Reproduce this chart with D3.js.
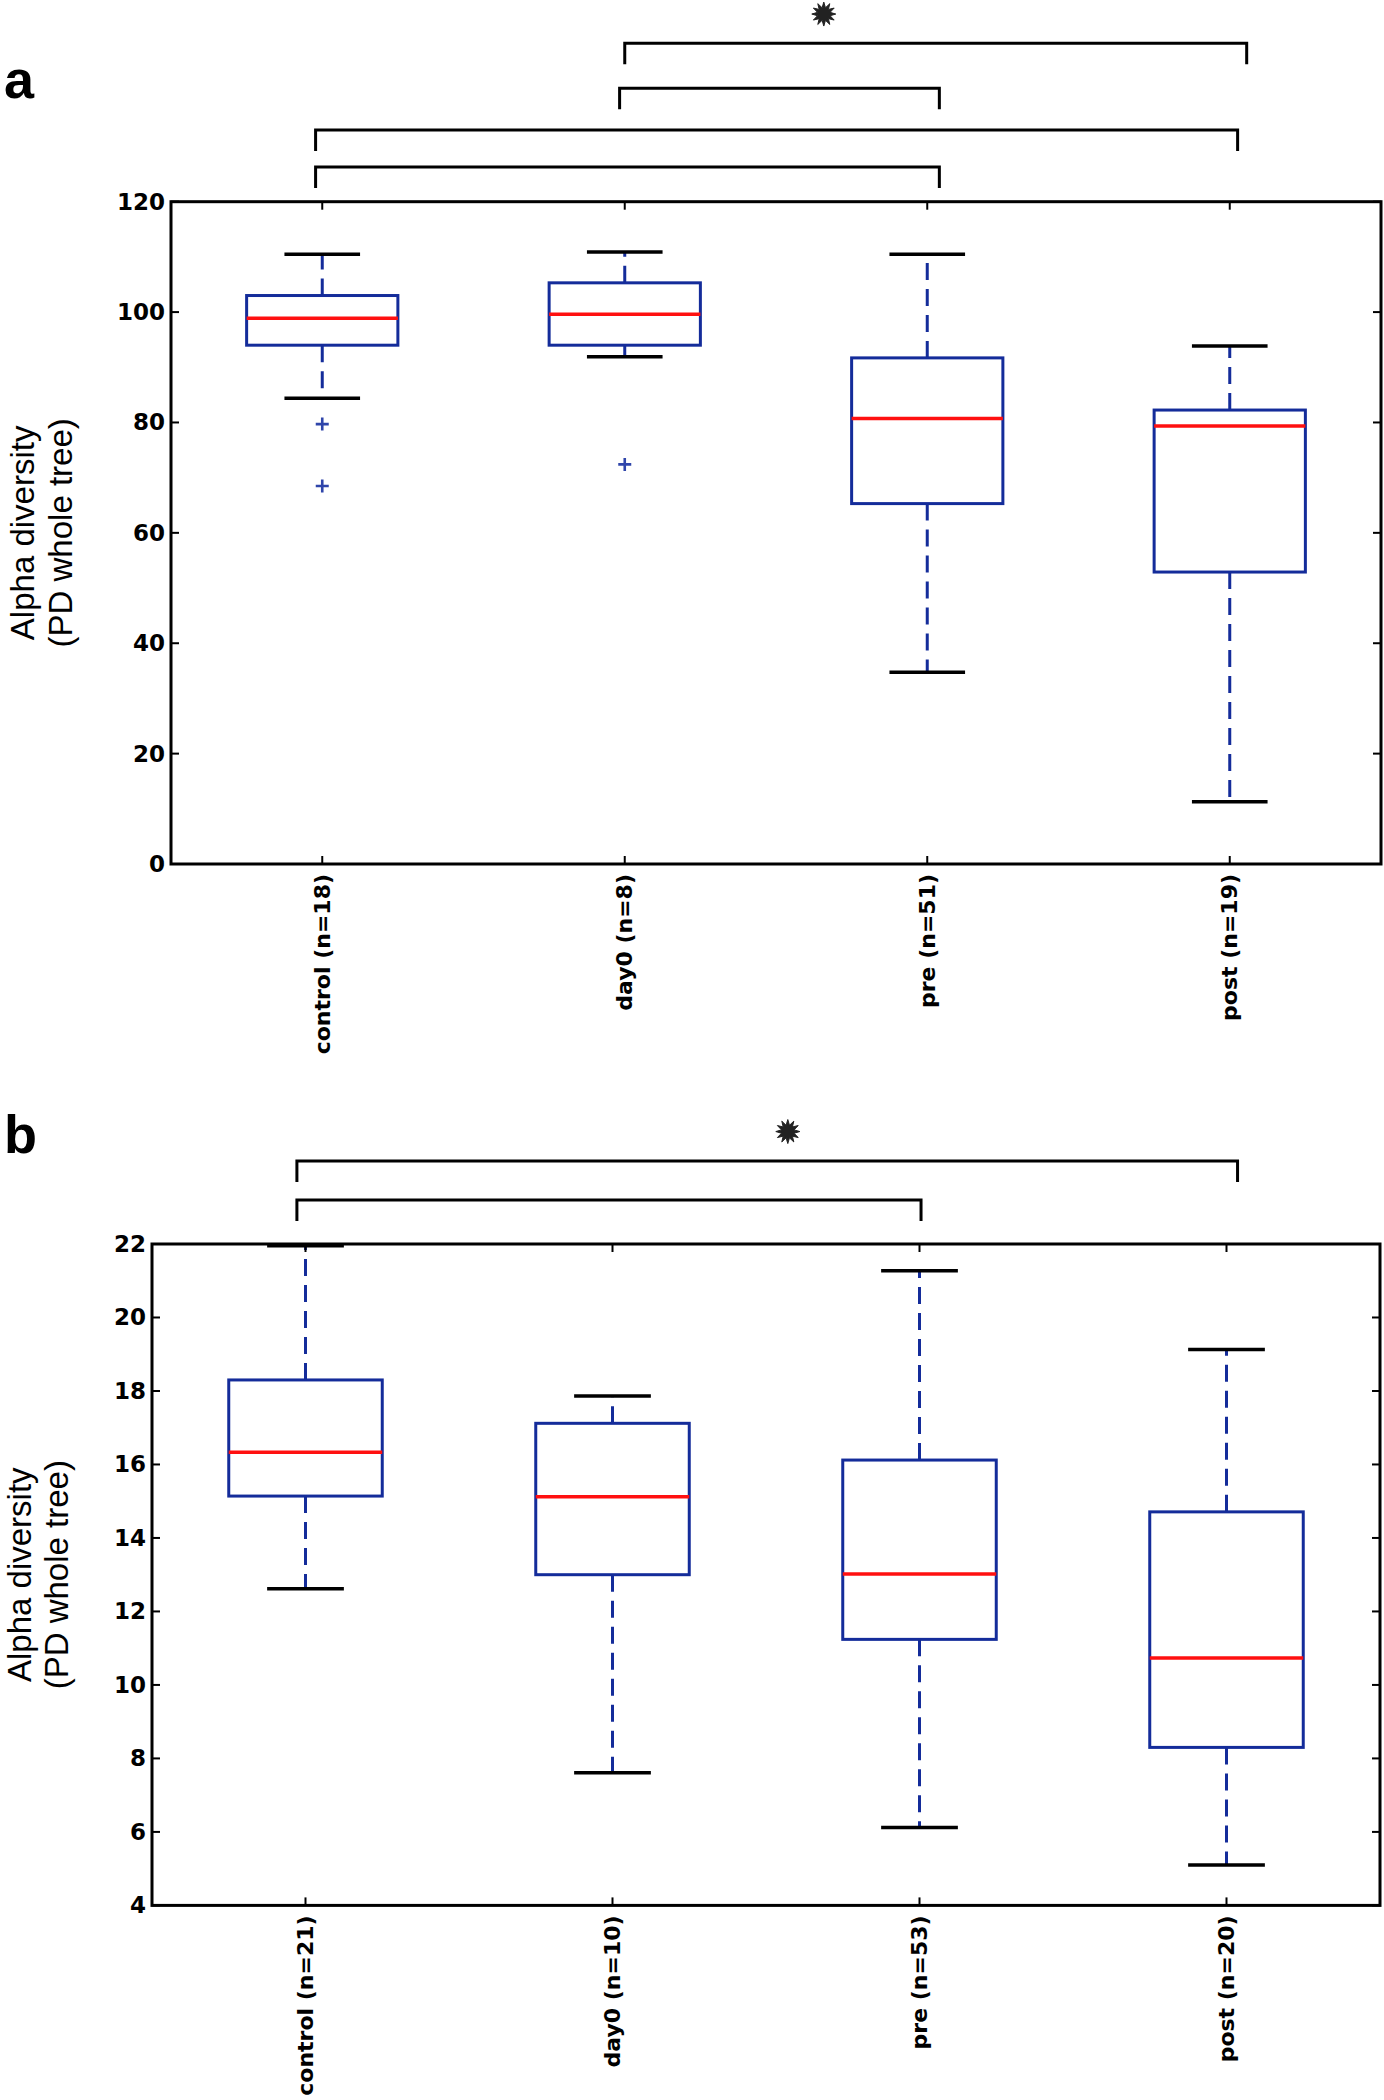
<!DOCTYPE html>
<html><head><meta charset="utf-8">
<script src="https://cdn.jsdelivr.net/npm/d3@7"></script>
<style>body{margin:0;background:#fff}</style>
</head><body>
<script>
// ---------- Panel a data ----------
const categoriesA = ["control (n=18)", "day0 (n=8)", "pre (n=51)", "post (n=19)"];
const whiskLowA  = [84.4, 91.9, 34.75, 11.3];
const q1A        = [94.0, 94.0, 65.3, 52.9];
const medianA    = [98.9, 99.6, 80.7, 79.35];
const q3A        = [103.0, 105.3, 91.7, 82.25];
const whiskHighA = [110.5, 110.9, 110.5, 93.85];
const outliersA  = [[79.7, 68.5], [72.4], [], []];
const yTicksA    = [0, 20, 40, 60, 80, 100, 120];
// brackets (x in category units, level in y data units)
const bracketFromA  = [2.0, 1.983, 0.978, 0.978];
const bracketToA    = [4.056, 3.04, 4.026, 3.04];
const bracketLevelA = [148.7, 140.55, 133.0, 126.3];
const starA = [2.658, 154.0];

// ---------- Panel b data ----------
const categoriesB = ["control (n=21)", "day0 (n=10)", "pre (n=53)", "post (n=20)"];
const whiskLowB  = [12.62, 7.61, 6.12, 5.10];
const q1B        = [15.14, 13.0, 11.24, 8.30];
const medianB    = [16.33, 15.12, 13.02, 10.73];
const q3B        = [18.30, 17.12, 16.12, 14.71];
const whiskHighB = [21.95, 17.86, 21.27, 19.13];
const outliersB  = [[], [], [], []];
const yTicksB    = [4, 6, 8, 10, 12, 14, 16, 18, 20, 22];
const bracketFromB  = [0.972, 0.972];
const bracketToB    = [4.036, 3.005];
const bracketLevelB = [24.26, 23.2];
const starB = [2.571, 25.06];

const W = 1384, H = 2100;
const svg = d3.select("body").append("svg").attr("width", W).attr("height", H)
  .style("background", "#fff");

const BOX = "#142c9a", MED = "#ff1010", CAP = "#000", OUT = "#2f45aa";

function panel(cfg) {
  const g = svg.append("g");
  const x = d3.scaleLinear().domain([0.5, 4.5]).range([cfg.left, cfg.right]);
  const y = d3.scaleLinear().domain(cfg.yDomain).range([cfg.bottom, cfg.top]);
  const idx = d3.range(cfg.cats.length);
  const bw = 0.5, cw = 0.25;

  idx.forEach(i => {
    const xc = x(i + 1);
    // whiskers
    g.append("line").attr("x1", xc).attr("x2", xc)
      .attr("y1", y(cfg.q1[i])).attr("y2", y(cfg.wl[i]))
      .attr("stroke", BOX).attr("stroke-width", 3).attr("stroke-dasharray", "17,9");
    g.append("line").attr("x1", xc).attr("x2", xc)
      .attr("y1", y(cfg.q3[i])).attr("y2", y(cfg.wh[i]))
      .attr("stroke", BOX).attr("stroke-width", 3).attr("stroke-dasharray", "17,9");
    // caps
    [cfg.wl[i], cfg.wh[i]].forEach(v => {
      g.append("line").attr("x1", x(i + 1 - cw / 2)).attr("x2", x(i + 1 + cw / 2))
        .attr("y1", y(v)).attr("y2", y(v))
        .attr("stroke", CAP).attr("stroke-width", 3.5);
    });
    // box
    g.append("rect").attr("x", x(i + 1 - bw / 2)).attr("width", x(i + 1 + bw / 2) - x(i + 1 - bw / 2))
      .attr("y", y(cfg.q3[i])).attr("height", y(cfg.q1[i]) - y(cfg.q3[i]))
      .attr("fill", "none").attr("stroke", BOX).attr("stroke-width", 3);
    // median
    g.append("line").attr("x1", x(i + 1 - bw / 2)).attr("x2", x(i + 1 + bw / 2))
      .attr("y1", y(cfg.med[i])).attr("y2", y(cfg.med[i]))
      .attr("stroke", MED).attr("stroke-width", 3.5);
    // outliers
    cfg.out[i].forEach(v => {
      const px = xc, py = y(v), s = 6.5;
      g.append("path").attr("d", `M${px - s},${py}H${px + s}M${px},${py - s}V${py + s}`)
        .attr("stroke", OUT).attr("stroke-width", 2.6).attr("fill", "none");
    });
  });

  // frame
  g.append("rect").attr("x", cfg.left).attr("y", cfg.top)
    .attr("width", cfg.right - cfg.left).attr("height", cfg.bottom - cfg.top)
    .attr("fill", "none").attr("stroke", "#000").attr("stroke-width", 3);

  // ticks (inward)
  const tl = 8;
  cfg.yTicks.forEach(t => {
    const py = y(t);
    g.append("line").attr("x1", cfg.left).attr("x2", cfg.left + tl).attr("y1", py).attr("y2", py)
      .attr("stroke", "#000").attr("stroke-width", 2);
    g.append("line").attr("x1", cfg.right - tl).attr("x2", cfg.right).attr("y1", py).attr("y2", py)
      .attr("stroke", "#000").attr("stroke-width", 2);
    g.append("text").attr("x", cfg.left - 6).attr("y", py)
      .attr("text-anchor", "end").attr("dominant-baseline", "central")
      .style("font-family", "DejaVu Sans").style("font-weight", "bold").style("font-size", "23px")
      .text(t);
  });
  idx.forEach(i => {
    const px = x(i + 1);
    g.append("line").attr("x1", px).attr("x2", px).attr("y1", cfg.top).attr("y2", cfg.top + tl)
      .attr("stroke", "#000").attr("stroke-width", 2);
    g.append("line").attr("x1", px).attr("x2", px).attr("y1", cfg.bottom - tl).attr("y2", cfg.bottom)
      .attr("stroke", "#000").attr("stroke-width", 2);
    const ty = cfg.bottom + 10;
    g.append("text").attr("transform", `translate(${px},${ty}) rotate(-90)`)
      .attr("text-anchor", "end").attr("dominant-baseline", "central")
      .style("font-family", "DejaVu Sans").style("font-weight", "bold").style("font-size", "22px")
      .text(cfg.cats[i]);
  });

  // y label
  const cy = (cfg.top + cfg.bottom) / 2;
  [["Alpha diversity", cfg.yl1], ["(PD whole tree)", cfg.yl2]].forEach(([s, bx]) => {
    g.append("text").attr("transform", `translate(${bx},${cy}) rotate(-90)`)
      .attr("text-anchor", "middle")
      .style("font-family", "Liberation Sans").style("font-size", "33px")
      .text(s);
  });

  // brackets
  cfg.bf.forEach((f, k) => {
    const x1 = x(f), x2 = x(cfg.bt[k]), yy = y(cfg.bl[k]), d = 21;
    g.append("path").attr("d", `M${x1},${yy + d}V${yy}H${x2}V${yy + d}`)
      .attr("fill", "none").attr("stroke", "#000").attr("stroke-width", 3);
  });

  // star
  const pts = d3.range(24).map(j => [j * Math.PI / 12, j % 2 === 0 ? 12 : 6.5]);
  g.append("path").attr("d", d3.lineRadial().curve(d3.curveLinearClosed)(pts))
    .attr("transform", `translate(${x(cfg.star[0])},${y(cfg.star[1])})`)
    .attr("fill", "#222").attr("stroke", "#222").attr("stroke-width", 1);

  // panel letter
  g.append("text").attr("x", 4).attr("y", cfg.letterY)
    .style("font-family", "Liberation Sans").style("font-weight", "bold").style("font-size", "54px")
    .text(cfg.letter);
}

panel({
  cats: categoriesA, wl: whiskLowA, q1: q1A, med: medianA, q3: q3A, wh: whiskHighA, out: outliersA,
  yTicks: yTicksA, yDomain: [0, 120], left: 171, right: 1381, top: 201.7, bottom: 864,
  bf: bracketFromA, bt: bracketToA, bl: bracketLevelA, star: starA,
  yl1: 34, yl2: 72, letter: "a", letterY: 98
});
panel({
  cats: categoriesB, wl: whiskLowB, q1: q1B, med: medianB, q3: q3B, wh: whiskHighB, out: outliersB,
  yTicks: yTicksB, yDomain: [4, 22], left: 152, right: 1380, top: 1244, bottom: 1905.4,
  bf: bracketFromB, bt: bracketToB, bl: bracketLevelB, star: starB,
  yl1: 31, yl2: 68, letter: "b", letterY: 1153
});
</script>
</body></html>
